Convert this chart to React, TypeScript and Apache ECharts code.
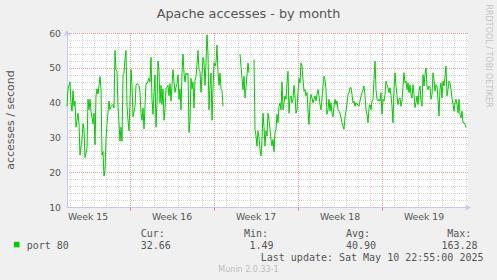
import React, { useEffect, useRef } from 'react';
import * as echarts from 'echarts';

// time buckets (~2 h each), 33 days
const slotCount = 402;
const categories = Array.from({ length: slotCount }, (_, i) => String(i));
const weekNames = ['Week 15', 'Week 16', 'Week 17', 'Week 18', 'Week 19'];
const weekLabelSlots = [21, 105, 189, 273, 357];
const weekStartSlots = [63, 147, 231, 315];
const daySlots = Array.from({ length: 34 }, (_, k) => 3 + 12 * k);

// [slot, accesses/second]
const segA: [number, number][] = [
  [0, 39], [1, 44], [3, 46], [4, 40], [5, 37.6], [6, 43.5], [7, 39], [8, 40.5], [9, 33], [10, 35],
  [11, 37], [12, 34], [13, 25], [15, 29.5], [16, 34], [17, 32.5], [18, 24.3], [20, 27], [21, 41], [22, 38],
  [23, 41], [24, 37.6], [26, 34], [27, 37], [28, 28], [29, 42], [30, 44], [31, 42.5], [32, 45], [33, 47.5],
  [34, 44], [35, 25], [36, 26], [37, 19], [38, 20.5], [39, 29.5], [40, 34], [42, 40.5], [43, 38], [44, 39],
  [46, 39.5], [47, 38.5], [48, 55], [49, 49.5], [50, 49], [51, 39], [52, 34], [53, 29], [54, 33], [55, 29],
  [56, 48], [57, 48.5], [58, 52.5], [59, 55], [60, 39], [61, 35], [62, 32], [63, 40], [64, 49.5], [65, 45],
  [66, 36], [68, 39], [69, 45], [70, 45.5], [72, 45], [73, 43], [74, 37], [75, 35], [76, 38.5], [77, 32.5],
  [78, 39], [79, 45.5], [80, 45.5], [82, 47], [83, 46], [84, 53], [85, 41], [86, 36.7], [87, 43], [88, 48],
  [89, 33], [90, 40], [91, 52], [92, 49], [93, 40], [94, 45], [95, 39.5], [96, 44], [97, 35], [98, 38],
  [99, 44], [101, 45], [102, 42], [103, 45.5], [104, 40.5], [105, 45], [106, 49.5], [107, 46], [108, 43], [109, 44.5],
  [110, 45.5], [111, 48], [112, 41], [113, 44], [114, 38], [115, 48.5], [116, 54], [117, 48.5], [118, 46], [119, 48.5],
  [120, 48], [121, 48.5], [122, 31.5], [123, 35], [124, 47], [125, 44], [126, 46], [127, 38.5], [128, 46.5], [129, 47.5],
  [130, 51], [131, 55], [132, 49.5], [133, 49], [134, 43], [135, 48], [136, 53], [137, 51.5], [138, 45], [139, 51.5],
  [140, 59.5], [141, 54], [142, 38], [143, 45], [144, 48.5], [145, 35], [146, 44], [147, 51.5], [148, 50.5], [149, 51.5],
  [150, 56.5], [151, 49], [152, 45], [153, 48.5], [154, 44], [155, 43.5], [156, 39],
];
const segB: [number, number][] = [
  [173, 54], [174, 50.5], [175, 47], [176, 43.8], [177, 47.6], [178, 41.4], [179, 44.3], [180, 48], [181, 51.4], [182, 48.6],
];
const segC: [number, number][] = [
  [187, 52.4], [188, 32.4], [189, 30.5], [190, 27.6], [191, 32], [192, 30], [193, 26.7], [194, 24.8], [195, 29.5], [196, 37],
  [197, 33], [198, 27.6], [199, 32], [200, 30.5], [201, 37], [202, 35], [203, 32.4], [204, 29.5], [205, 27.6], [206, 29.5],
  [207, 26], [208, 31.4], [209, 32.4], [210, 36.7], [211, 34.3], [212, 39], [213, 40], [214, 38], [215, 46], [216, 38],
  [217, 40], [218, 42], [219, 41], [220, 45.7], [221, 49], [222, 37], [223, 41.4], [224, 42], [225, 40], [226, 41],
  [227, 45], [228, 42], [229, 37], [230, 38], [231, 42.9], [232, 47], [233, 45.7], [234, 51.4], [235, 50.5], [236, 46.7],
  [237, 43.3], [238, 43.8], [239, 42], [240, 42.9], [241, 38], [242, 33.8], [243, 40], [244, 42.4], [245, 41.4], [246, 40],
  [247, 41], [248, 42], [249, 40.5], [250, 42.4], [251, 43.8], [252, 42], [253, 39.5], [254, 38], [255, 41.4], [256, 44.8],
  [257, 47.6], [258, 46.7], [259, 43.8], [260, 36.7], [261, 38], [262, 41], [263, 37.6], [264, 40], [265, 37], [266, 36],
  [267, 39], [268, 41], [269, 39.5], [270, 40.5], [271, 38], [272, 37.6], [273, 37], [274, 35.7], [275, 34.3], [276, 33.3],
  [277, 32.4], [278, 36], [279, 37.6], [280, 40], [281, 42.4], [282, 42.9], [283, 44.3], [284, 44.3], [285, 42.4], [286, 40],
  [287, 40.5], [288, 39], [289, 40], [290, 39.5], [291, 39.5], [292, 39], [293, 40.5], [294, 42], [295, 42.9], [296, 43.8],
  [297, 44.8], [298, 42], [299, 38], [300, 36.7], [301, 34.3], [302, 38.5], [303, 39.5], [304, 38], [305, 40.5], [306, 41],
  [307, 46.7], [308, 51.9], [309, 43.8], [310, 41], [311, 40.5], [312, 41], [313, 40.5], [314, 42.9], [315, 36.7], [316, 41],
  [317, 40.5], [318, 42.4], [319, 46.2], [320, 45.2], [321, 44.3], [322, 42.9], [323, 44.3], [324, 42], [325, 39], [326, 34.3],
  [327, 43.8], [328, 48.6], [329, 44.8], [330, 42], [331, 39.5], [332, 41], [333, 41.4], [334, 39], [335, 40.5], [336, 44.8],
  [337, 48.6], [338, 45.7], [339, 46.2], [340, 43.8], [341, 45.7], [342, 42.9], [343, 45.2], [344, 42.4], [345, 41.4], [346, 45.2],
  [347, 42.4], [348, 38.6], [349, 40], [350, 42], [351, 39.5], [352, 43.3], [353, 44.8], [354, 40.5], [355, 39], [356, 48.1],
  [357, 44.8], [358, 48.1], [359, 50], [360, 44.8], [361, 43.8], [362, 44.8], [363, 44.3], [364, 41], [365, 42.4], [366, 48.6],
  [367, 46.7], [368, 43.3], [369, 45.2], [370, 44.8], [371, 41], [372, 36.2], [373, 43.8], [374, 45.7], [375, 41.4], [376, 46.2],
  [377, 44.8], [378, 47.6], [379, 50.5], [380, 42], [381, 43.8], [382, 46.2], [383, 45.7], [384, 43.8], [385, 41.4], [386, 39.5],
  [387, 37.6], [388, 40], [389, 41], [390, 39.5], [391, 37.1], [392, 41], [393, 36.7], [394, 35.7], [395, 37.6], [396, 34.3],
  [397, 34.3], [398, 33.8], [399, 32.9],
];
const gapSlots = [157, 183];

const yMin = 10;
const yMax = 60;
const yStep = 10;

const legendHeaders = ['Cur:', 'Min:', 'Avg:', 'Max:'];
const legendValues = ['32.66', '1.49', '40.90', '163.28'];
const seriesName = 'port 80';
const lastUpdate = 'Last update: Sat May 10 22:55:00 2025';

const SANS = '"DejaVu Sans", sans-serif';
const MONO = '"DejaVu Sans Mono", monospace';
const TXT = '#555555';
const AXIS_BLUE = '#c6c6f4';
const MAJOR = '#ee9c9c';
const MINOR = '#d6d6d6';

function txt(text: string, x: number, y: number, opts: any = {}) {
  const align = opts.align || 'left';
  return {
    type: 'text',
    x,
    y,
    rotation: opts.rotation || 0,
    silent: true,
    style: {
      text,
      fill: opts.fill || TXT,
      fontSize: opts.fontSize || 10,
      fontFamily: opts.fontFamily || MONO,
      align,
      textAlign: align,
      verticalAlign: 'middle',
      textVerticalAlign: 'middle',
    },
  };
}

export default function App() {
  const ref = useRef<HTMLDivElement>(null);
  useEffect(() => {
    if (!ref.current) return;
    const chart = echarts.init(ref.current, undefined, { renderer: 'svg' });
    const data: any[] = [
      ...segA,
      [gapSlots[0], null],
      ...segB,
      [gapSlots[1], null],
      ...segC,
    ];
    const headerX = [140.7, 244, 346, 447.3];
    chart.setOption({
      animation: false,
      backgroundColor: '#f0f0f0',
      textStyle: { fontFamily: SANS },
      grid: {
        left: 67,
        top: 33,
        width: 401,
        height: 174.5,
        show: true,
        backgroundColor: '#ffffff',
        borderWidth: 0,
        containLabel: false,
      },
      xAxis: [
        {
          type: 'category',
          data: categories,
          boundaryGap: false,
          axisLine: {
            show: true,
            lineStyle: { color: AXIS_BLUE, width: 1 },
            symbol: ['none', 'arrow'],
            symbolSize: [5, 6],
            symbolOffset: [0, 3],
          },
          axisTick: {
            show: true,
            interval: (i: number) => weekStartSlots.includes(i),
            length: 3,
            inside: false,
            lineStyle: { color: '#f08080', width: 1 },
          },
          axisLabel: {
            show: true,
            interval: (i: number) => weekLabelSlots.includes(i),
            formatter: (_v: string, i: number) => weekNames[weekLabelSlots.indexOf(i)] || '',
            color: TXT,
            fontSize: 9.3,
            fontFamily: SANS,
            margin: 4,
          },
          splitLine: {
            show: true,
            interval: (i: number) => daySlots.includes(i),
            lineStyle: { color: MINOR, width: 1, type: [1, 1] },
          },
          z: 1,
        },
        {
          type: 'category',
          data: categories,
          boundaryGap: false,
          position: 'bottom',
          axisLine: { show: false },
          axisTick: { show: false },
          axisLabel: { show: false },
          splitLine: {
            show: true,
            interval: (i: number) => weekStartSlots.includes(i),
            lineStyle: { color: MAJOR, width: 1, type: [1, 1] },
          },
          z: 2,
        },
      ],
      yAxis: {
        type: 'value',
        min: yMin,
        max: yMax,
        interval: yStep,
        axisLine: {
          show: true,
          lineStyle: { color: AXIS_BLUE, width: 1 },
          symbol: ['none', 'arrow'],
          symbolSize: [5, 6],
          symbolOffset: [0, 3],
        },
        axisTick: { show: false },
        axisLabel: { color: TXT, fontSize: 9.3, fontFamily: SANS, margin: 6 },
        splitLine: { show: true, lineStyle: { color: MAJOR, width: 1, type: [1, 1] } },
        minorTick: { show: false, splitNumber: 5 },
        minorSplitLine: { show: true, lineStyle: { color: MINOR, width: 1, type: [1, 1] } },
      },
      series: [
        {
          type: 'line',
          name: seriesName,
          xAxisIndex: 0,
          data,
          showSymbol: false,
          connectNulls: false,
          silent: true,
          lineStyle: { color: '#00cc00', width: 1 },
          itemStyle: { color: '#00cc00' },
          z: 5,
        },
      ],
      graphic: [
        txt('Apache accesses - by month', 248.5, 13, { fontFamily: SANS, fontSize: 12.8, align: 'center' }),
        txt('accesses / second', 10, 120, { fontFamily: SANS, fontSize: 11, align: 'center', rotation: Math.PI / 2 }),
        txt('RRDTOOL / TOBI OETIKER', 488.5, 56, { fontFamily: SANS, fontSize: 8, align: 'center', rotation: -Math.PI / 2, fill: '#c4c4c4' }),
        ...legendHeaders.map((h, i) => txt(h, headerX[i], 233.5)),
        {
          type: 'rect',
          silent: true,
          shape: { x: 14, y: 241.8, width: 5.5, height: 5.5 },
          style: { fill: '#00cc00' },
        },
        txt(seriesName, 26.7, 245),
        txt(legendValues[0], 140.7, 245),
        txt(legendValues[1], 273.5, 245, { align: 'right' }),
        txt(legendValues[2], 346, 245),
        txt(legendValues[3], 477.5, 245, { align: 'right' }),
        txt(lastUpdate, 483.5, 257.3, { align: 'right' }),
        txt('Munin 2.0.33-1', 248.5, 269.3, { fontFamily: SANS, fontSize: 8, align: 'center', fill: '#bdbdbd' }),
      ],
    });
    return () => chart.dispose();
  }, []);
  return (
    <div
      ref={ref}
      style={{ position: 'fixed', left: 0, top: 0, width: 497, height: 280 }}
    />
  );
}
